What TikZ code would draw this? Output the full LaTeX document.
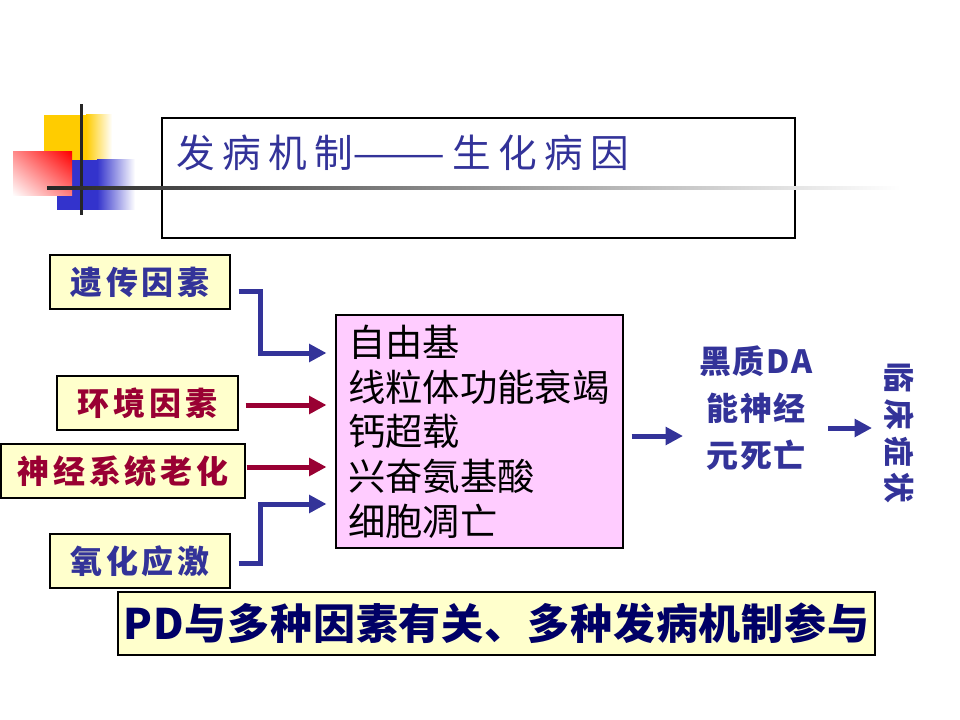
\documentclass[tikz,border=0pt]{standalone}
\usepackage{fontspec}
\setmainfont{Noto Sans CJK SC}
\newfontfamily\fTitle[LetterSpace=19]{Noto Sans CJK SC}
\newfontfamily\fBox[LetterSpace=12]{Noto Sans CJK SC}
\newfontfamily\fDA[LetterSpace=6]{Noto Sans CJK SC}
\newfontfamily\fSym[LetterSpace=20]{Noto Sans CJK SC}
\newfontfamily\fBot[LetterSpace=2]{Noto Sans CJK SC}
\newfontfamily\fPlain{Noto Sans CJK SC}
\usetikzlibrary{arrows.meta,calc,shadings}
\definecolor{tblue}{HTML}{333399}
\definecolor{tred}{HTML}{990033}
\definecolor{lyellow}{HTML}{FFFFCC}
\definecolor{lpink}{HTML}{FFCCFF}
\definecolor{navy}{HTML}{000066}
\definecolor{dyellow}{HTML}{FFCC00}
\definecolor{dblue}{HTML}{3333CC}
\definecolor{dred}{HTML}{FF0000}
\tikzset{
  lbox/.style={draw=black, line width=0.8pt, fill=lyellow, inner sep=0pt, minimum height=40.5pt},
  barrow/.style={draw=tblue, line width=3.75pt, -{Triangle[length=13pt,width=13pt]}},
  rarrow/.style={draw=tred, line width=3.75pt, -{Triangle[length=13pt,width=13pt]}},
  boxfont/.style={font=\fBox\bfseries\fontsize{24pt}{28pt}\selectfont},
}
\begin{document}
\begin{tikzpicture}[x=0.75pt,y=-0.75pt]
\useasboundingbox (0,0) rectangle (960,720);
\fill[white] (0,0) rectangle (960,720);
% decoration
\fill[dyellow] (44,115) rectangle (86,161);
\shade[left color=dyellow,right color=white] (86,115) rectangle (112,161);
\fill[dblue] (57,160) rectangle (97,210);
\shade[left color=dblue,right color=white] (97,160) rectangle (135,210);
\shade[upper right=dred, lower left=white, upper left=dred!45!white, lower right=dred!50!white] (13,152) rectangle (72,196);
\fill[black!85] (79.5,104) rectangle (82.5,215);
% title box
\node[draw=black, line width=0.8pt, minimum width=474.75pt, minimum height=90pt, inner sep=0pt] (tbox) at (478.5,178) {};
\shade[left color=black!85,right color=white] (47,186.5) rectangle (900,189.5);
\node[anchor=west, inner sep=0pt, text=tblue, font=\fTitle\fontsize{29pt}{32pt}\selectfont] (ttl) at (176,153) {发病机制{\fPlain\resizebox{70pt}{\height}{——}}\kern5pt 生化病因};
% left boxes
\node[lbox, minimum width=135pt, boxfont, text=tblue] (gen) at (140,282) {遗传因素};
\node[lbox, minimum width=135.75pt, boxfont, text=tred] (env) at (147.5,403) {环境因素};
\node[lbox, minimum width=183pt, boxfont, text=tred] (aging) at (123,471) {神经系统老化};
\node[lbox, minimum width=135pt, boxfont, text=tblue] (oxi) at (140,561) {氧化应激};
% center box
\node[draw=black, line width=0.8pt, fill=lpink, minimum width=215.25pt, minimum height=174.75pt, inner xsep=9pt, inner ysep=0pt, text width=197.25pt, align=left, font=\fPlain\fontsize{28pt}{33.5pt}\selectfont] (center) at (479.5,431.5) {自由基\\线粒体功能衰竭\\钙超载\\兴奋氨基酸\\细胞凋亡};
% arrows into center
\draw[barrow] ($(gen.east)+(8,10)$) -- ++(22,0) |- ($(center.west)+(-9,-78.5)$);
\draw[rarrow] ($(env.east)+(7,2)$) -- ($(center.west)+(-9,-26.5)$);
\draw[rarrow] ($(aging.east)+(1,-4)$) -- ($(center.west)+(-9,35.5)$);
\draw[barrow] ($(oxi.east)+(8,2)$) -- ++(22,0) |- ($(center.west)+(-9,72.5)$);
% DA
\node[align=center, text=tblue, inner sep=0pt, font=\fDA\bfseries\fontsize{24pt}{35pt}\selectfont] (da) at (756,408) {黑质DA\\能神经\\元死亡};
\coordinate (a3) at (683,436);
\draw[barrow] ($(center.east)+(8,4.5)$) -- (a3);
% clinical symptoms
\node[rotate=-90, text=tblue, inner sep=0pt, font=\fSym\bfseries\fontsize{23pt}{26pt}\selectfont] (sym) at (899,433) {临床症状};
\coordinate (a4s) at (828,428);
\coordinate (a4e) at (872,428);
\draw[barrow] (a4s) -- (a4e);
% bottom
\node[draw=black, line width=0.8pt, fill=lyellow, minimum width=567.75pt, minimum height=47.25pt, inner sep=0pt, text=navy, font=\fBot\bfseries\fontsize{31.5pt}{36pt}\selectfont] (bot) at (496.5,623.5) {PD与多种因素有关、多种发病机制参与};
\end{tikzpicture}
\end{document}
